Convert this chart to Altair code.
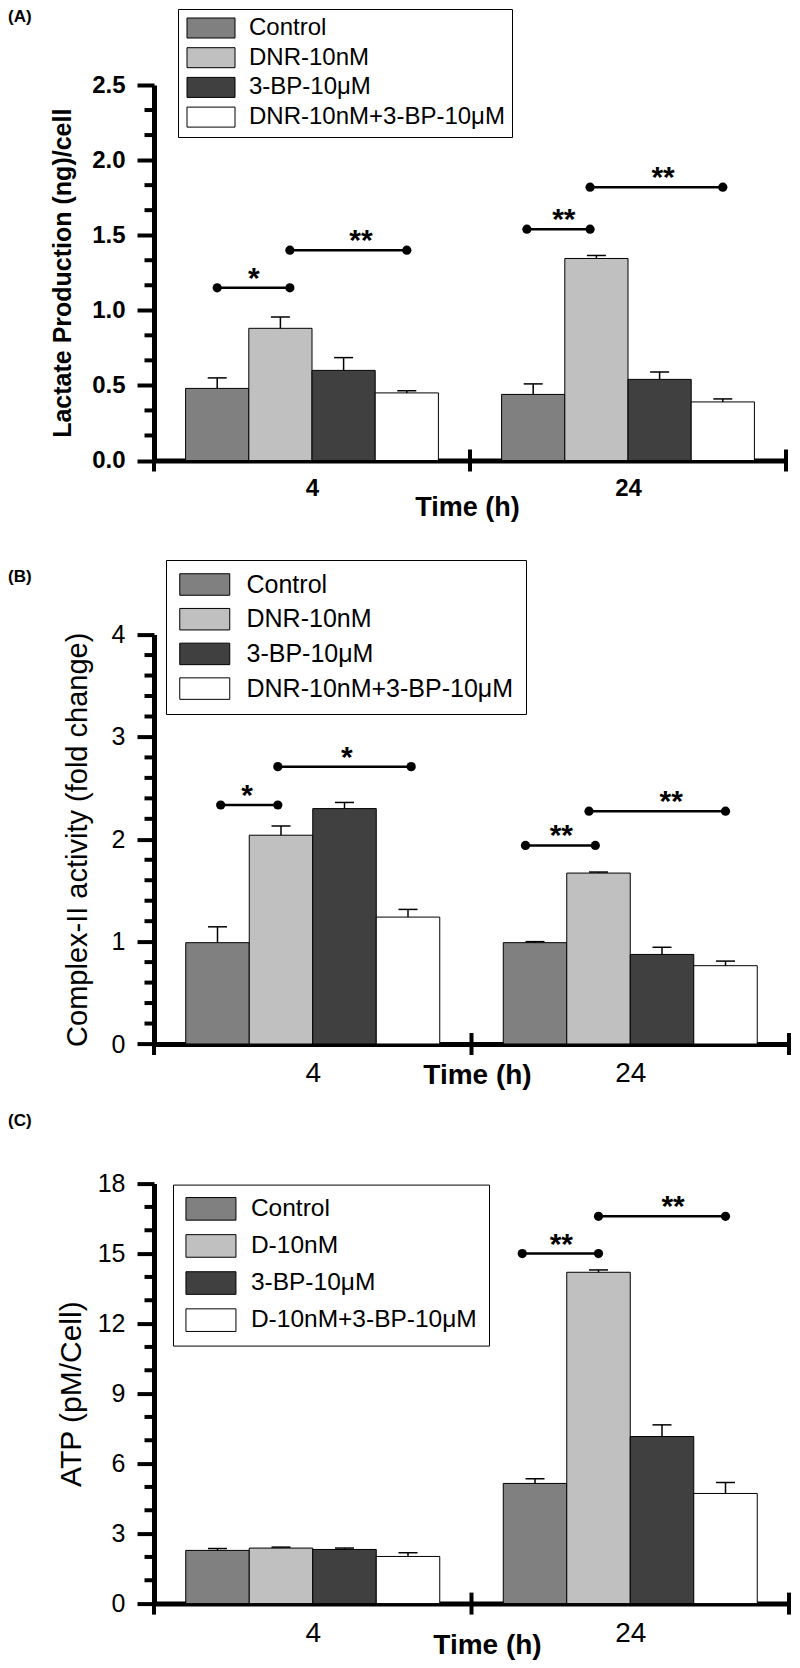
import altair as alt
import pandas as pd

# ---------------- data ----------------
time_points = ["4", "24"]
fills = ["#808080", "#c0c0c0", "#404040", "#ffffff"]
breaks = [0, 1, 2]

# (A) Lactate production
lac_series = ["Control", "DNR-10nM", "3-BP-10μM", "DNR-10nM+3-BP-10μM"]
lac_4h = [0.48, 0.88, 0.60, 0.45]
lac_4h_sd = [0.07, 0.075, 0.085, 0.015]
lac_24h = [0.44, 1.345, 0.54, 0.39]
lac_24h_sd = [0.07, 0.02, 0.05, 0.02]
lac_sig_from = [0.20, 0.43, 1.18, 1.38]
lac_sig_to = [0.43, 0.80, 1.38, 1.80]
lac_sig_y = [1.15, 1.40, 1.54, 1.82]
lac_sig_text = ["*", "**", "**", "**"]
lac_sig_star_x = [0.316, 0.655, 1.297, 1.611]
lac_major = [0.0, 0.5, 1.0, 1.5, 2.0, 2.5]
lac_minor = [i / 6 for i in range(16) if i % 3]

# (B) Complex-II activity
c2_series = ["Control", "DNR-10nM", "3-BP-10μM", "DNR-10nM+3-BP-10μM"]
c2_4h = [0.99, 2.04, 2.30, 1.24]
c2_4h_sd = [0.155, 0.09, 0.06, 0.075]
c2_24h = [0.99, 1.67, 0.875, 0.765]
c2_24h_sd = [0.01, 0.01, 0.07, 0.045]
c2_sig_from = [0.21, 0.39, 1.17, 1.37]
c2_sig_to = [0.39, 0.81, 1.39, 1.80]
c2_sig_y = [2.335, 2.71, 1.94, 2.275]
c2_sig_text = ["*", "*", "**", "**"]
c2_sig_star_x = [0.293, 0.607, 1.283, 1.629]
c2_major = [0, 1, 2, 3, 4]
c2_minor = [i * 0.2 for i in range(21) if i % 5]

# (C) ATP
atp_series = ["Control", "D-10nM", "3-BP-10μM", "D-10nM+3-BP-10μM"]
atp_4h = [2.28, 2.38, 2.32, 2.02]
atp_4h_sd = [0.08, 0.04, 0.06, 0.16]
atp_24h = [5.15, 14.2, 7.16, 4.72]
atp_24h_sd = [0.2, 0.1, 0.5, 0.47]
atp_sig_from = [1.16, 1.40]
atp_sig_to = [1.40, 1.80]
atp_sig_y = [15.0, 16.6]
atp_sig_text = ["**", "**"]
atp_sig_star_x = [1.283, 1.635]
atp_major = [0, 3, 6, 9, 12, 15, 18]
atp_minor = [i for i in range(19) if i % 3]

F = "Liberation Sans"
BAR_W = 0.2


def panel(tag, series, m4, s4, m24, s24, sfrom, sto, sy, stext, sx,
          ymax, major, minor, fmt, w, h, st):
    rows = []
    for g, (means, sds) in enumerate([(m4, s4), (m24, s24)]):
        for i, name in enumerate(series):
            c = g + 0.5 + (i - 1.5) * BAR_W
            rows.append({"name": name, "mean": means[i], "top": means[i] + sds[i],
                         "xc": c, "xl": c - BAR_W / 2, "xr": c + BAR_W / 2})
    bdf = pd.DataFrame(rows)
    sdf = pd.DataFrame({"x1": sfrom, "x2": sto, "y": sy, "t": stext, "sx": sx})
    ddf = pd.DataFrame({"x": list(sfrom) + list(sto), "y": list(sy) + list(sy)})
    tdf = pd.DataFrame({"b": breaks})
    mdf = pd.DataFrame({"m": minor})
    tagdf = pd.DataFrame({"tag": [tag]})

    xs = alt.Scale(domain=[0, 2], nice=False, zero=False)
    ys = alt.Scale(domain=[0, ymax], nice=False)
    xlab = f"datum.value < 1 ? '{time_points[0]}' : '{time_points[1]}'"

    yaxis = alt.Axis(
        values=major, format=fmt, tickSize=17, tickWidth=4, tickColor="black",
        domainWidth=5, domainColor="black",
        labelFont=F, labelFontSize=st["yl_size"], labelFontWeight=st["yl_weight"],
        labelColor="black", labelPadding=st["yl_pad"], labelOverlap=False, labelFlush=False,
        grid=False, title=st["ytitle"], titleFont=F, titleFontSize=st["yt_size"],
        titleFontWeight=st["yt_weight"], titleColor="black", titleX=st["yt_x"], titleY=h / 2,
        titleAlign="center", titleBaseline="middle", titleAngle=270)
    xaxis = alt.Axis(
        values=[0.5, 1.5], labelExpr=xlab, ticks=False, tickSize=0,
        domainWidth=5, domainColor="black",
        labelFont=F, labelFontSize=st["xl_size"], labelFontWeight=st["xl_weight"],
        labelColor="black", labelPadding=st["xl_pad"], labelFlush=False, labelOverlap=False,
        grid=False, title="Time (h)", titleFont=F, titleFontSize=st["xt_size"],
        titleFontWeight="bold", titleColor="black", titleX=st["xt_x"], titleY=st["xt_y"],
        titleAlign="center", titleBaseline="middle")

    sw, sh = st["sw"], st["sh"]
    r = sw / sh
    legend = alt.Legend(
        title=None, orient="none", legendX=st["lx"], legendY=st["ly"], direction="vertical",
        strokeColor="black", fillColor="white", padding=st["lpad"],
        symbolType=f"M-{r:.4f},-1H{r:.4f}V1H-{r:.4f}Z", symbolSize=sh ** 2,
        symbolStrokeColor="black", symbolStrokeWidth=1, symbolOpacity=1,
        symbolOffset=(sw - sh) / 2, labelOffset=st["gap"] + (sw - sh) / 2,
        labelFont=F, labelFontSize=st["lf"], labelColor="black",
        labelLimit=600, rowPadding=st["rp"])

    X = lambda f: alt.X(f, scale=xs, axis=xaxis)
    Y = lambda f: alt.Y(f, scale=ys, axis=yaxis)

    bars = alt.Chart(bdf).mark_bar(stroke="black", strokeWidth=1).encode(
        x=X("xl:Q"), x2="xr:Q", y=Y("mean:Q"), y2=alt.Y2Datum(0),
        color=alt.Color("name:N", scale=alt.Scale(domain=series, range=fills),
                        legend=legend, sort=series))
    err = alt.Chart(bdf).mark_rule(color="black", strokeWidth=1.5).encode(
        x=X("xc:Q"), y=Y("mean:Q"), y2="top:Q")
    cap = alt.Chart(bdf).mark_tick(orient="horizontal", color="black", thickness=1.5,
                                   size=19, opacity=1).encode(x=X("xc:Q"), y=Y("top:Q"))
    brk = alt.Chart(tdf).mark_tick(orient="vertical", color="black", thickness=4,
                                   size=22, opacity=1).encode(
        x=X("b:Q"), y=alt.YDatum(0, scale=ys, axis=yaxis))
    mticks = alt.Chart(mdf).mark_tick(orient="horizontal", color="black", thickness=4,
                                      size=9, opacity=1, xOffset=-5).encode(
        x=alt.XDatum(0, scale=xs, axis=xaxis), y=Y("m:Q"))
    sig = alt.Chart(sdf).mark_rule(color="black", strokeWidth=2.5).encode(
        x=X("x1:Q"), x2="x2:Q", y=Y("y:Q"))
    dots = alt.Chart(ddf).mark_circle(color="black", opacity=1, size=85).encode(
        x=X("x:Q"), y=Y("y:Q"))
    stars = alt.Chart(sdf).mark_text(font=F, fontSize=30, fontWeight="bold",
                                     baseline="alphabetic", align="center",
                                     color="black").encode(
        x=X("sx:Q"), y=Y("y:Q"), text="t:N")
    label = alt.Chart(tagdf).mark_text(font=F, fontSize=17, fontWeight="bold",
                                       align="left", baseline="middle",
                                       color="black").encode(
        x=alt.value(-146), y=alt.value(st["tag_y"]), text="tag:N")

    return alt.layer(bars, err, cap, brk, mticks, sig, dots, stars, label).properties(
        width=w, height=h)


styleA = dict(yl_size=24, yl_weight="bold", yl_pad=12,
              ytitle="Lactate Production (ng)/cell", yt_size=25, yt_weight="bold", yt_x=-92,
              xl_size=24, xl_weight="bold", xl_pad=16, xt_size=27, xt_x=313, xt_y=47,
              lx=24, ly=-76, lpad=7, sw=48, sh=20, gap=12, lf=24, rp=5.7, tag_y=-68)
styleB = dict(yl_size=25, yl_weight="normal", yl_pad=12,
              ytitle="Complex-II activity (fold change)", yt_size=29, yt_weight="normal",
              yt_x=-77, xl_size=28, xl_weight="normal", xl_pad=15, xt_size=28, xt_x=323,
              xt_y=31.5, lx=12, ly=-74.6, lpad=12, sw=50, sh=21.5, gap=15, lf=25, rp=7.7,
              tag_y=-58)
styleC = dict(yl_size=25, yl_weight="normal", yl_pad=12,
              ytitle="ATP (pM/Cell)", yt_size=30, yt_weight="normal", yt_x=-83,
              xl_size=28, xl_weight="normal", xl_pad=16, xt_size=28, xt_x=333, xt_y=42,
              lx=19, ly=1, lpad=12, sw=50, sh=22.6, gap=14, lf=24.5, rp=9.1, tag_y=-63)

pA = panel("(A)", lac_series, lac_4h, lac_4h_sd, lac_24h, lac_24h_sd,
           lac_sig_from, lac_sig_to, lac_sig_y, lac_sig_text, lac_sig_star_x,
           2.5, lac_major, lac_minor, ".1f", 632, 375.5, styleA)
pB = panel("(B)", c2_series, c2_4h, c2_4h_sd, c2_24h, c2_24h_sd,
           c2_sig_from, c2_sig_to, c2_sig_y, c2_sig_text, c2_sig_star_x,
           4, c2_major, c2_minor, "d", 635, 409.4, styleB)
pC = panel("(C)", atp_series, atp_4h, atp_4h_sd, atp_24h, atp_24h_sd,
           atp_sig_from, atp_sig_to, atp_sig_y, atp_sig_text, atp_sig_star_x,
           18, atp_major, atp_minor, "d", 635, 420, styleC)

inner = alt.vconcat(pB, pC, spacing=139, bounds="flush").resolve_scale(
    x="independent", y="independent", color="independent")
chart = alt.vconcat(pA, inner, spacing=173.6, bounds="flush").resolve_scale(
    x="independent", y="independent", color="independent").properties(
    padding={"left": 0, "top": 0, "right": 0, "bottom": 0}, background="white"
).configure_view(stroke=None)

chart.save("out.html", embed_options={"renderer": "svg", "actions": False})
